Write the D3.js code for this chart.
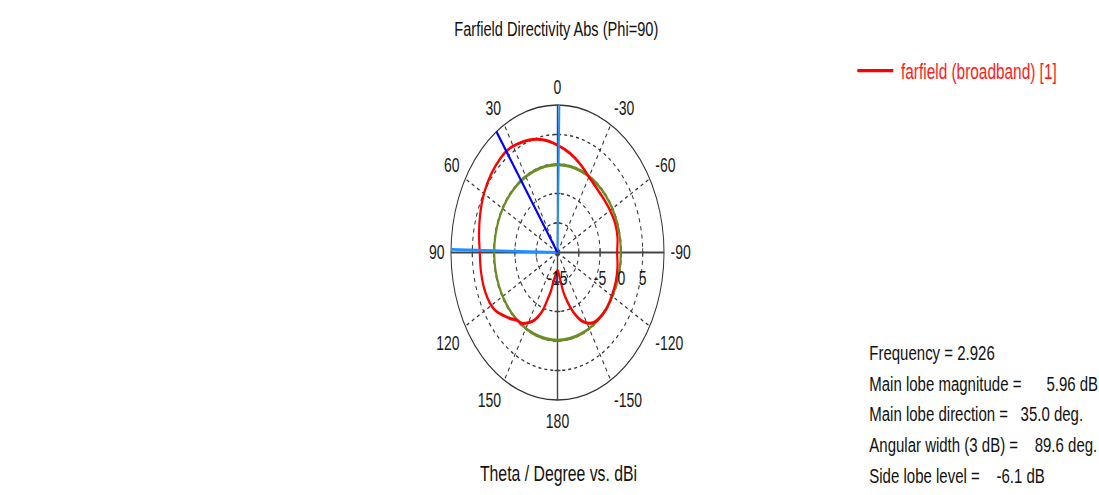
<!DOCTYPE html>
<html>
<head>
<meta charset="utf-8">
<script src="https://cdn.jsdelivr.net/npm/d3@7"></script>
<style>
  html, body { margin: 0; padding: 0; background: #fff; }
  svg { display: block; font-family: "Liberation Sans", Arial, sans-serif; }
  text { white-space: pre; }
</style>
</head>
<body>
<div id="chart"></div>
<script>
// farfield cut, theta in degrees (CCW from top), directivity in dBi
const thetaDeg = [-180, -175, -171.4, -168.4, -164.6, -160, -155, -150, -145, -140, -130, -120, -110, -100, -90, -80, -70, -60, -50, -40, -30, -20, -10,
  0, 10, 20, 30, 35, 40, 50, 60, 70, 80, 90, 100, 110, 120, 125, 130, 135, 140, 145, 150, 155, 160, 163, 166.5, 169, 174];
const dirDbi = [-12.0, -11.3, -10.0, -8.2, -6.4, -4.3, -2.4, -1.2, -0.45, -0.2, -0.05, -0.3, -0.45, -0.7, -1.0, -0.7, -0.6, -0.75, -0.85, -0.75, -0.2, 0.85, 2.05,
  3.2, 4.4, 5.25, 5.8, 5.96, 5.85, 5.45, 4.95, 4.3, 3.7, 3.25, 3.25, 3.25, 2.95, 2.45, 1.6, 0.8, -0.05, -0.35, -1.25, -2.4, -4.3, -6.3, -8.2, -10.0, -11.3];

const radialDomain = [-15, 10];
const ringValues = [-10, -5, 0, 5];
const radialTickValues = [-15, -5, 0, 5];
const radialTickLabels = ['-15', '-5', '0', '5'];
const spokeAngles = [30, 60, 120, 150, -30, -60, -120, -150];
const angleTicks = [0, 30, 60, 90, 120, 150, 180, -150, -120, -90, -60, -30];

const mainLobeDir = 35.0;
const mainLobeMag = 5.96;
const sideLobeLevel = -6.1;
const beamLines = [-1, 88.8];

const titleText = 'Farfield Directivity Abs (Phi=90)';
const axisTitle = 'Theta / Degree vs. dBi';
const legendLabel = 'farfield (broadband) [1]';
const statLines = [
  'Frequency = 2.926',
  'Main lobe magnitude =      5.96 dB',
  'Main lobe direction =   35.0 deg.',
  'Angular width (3 dB) =    89.6 deg.',
  'Side lobe level =    -6.1 dB'
];

const W = 1099, H = 495;
const SY = 1.385; // the original picture is stretched vertically
const cx = 557.5, cy = 182.3, R = 106.5;

const r = d3.scaleLinear().domain(radialDomain).range([0, R]);
const rad = d => d * Math.PI / 180;
const px = (th, rr) => cx - rr * Math.sin(rad(th));
const py = (th, rr) => cy - rr * Math.cos(rad(th));

const svg = d3.select('#chart').append('svg')
  .attr('width', W)
  .attr('height', H);

const g = svg.append('g').attr('transform', `scale(1,${SY})`);

// grid
const grid = g.append('g');
grid.selectAll('circle.ring')
  .data(ringValues)
  .enter().append('circle')
  .attr('class', 'ring')
  .attr('cx', cx).attr('cy', cy)
  .attr('r', d => r(d))
  .attr('fill', 'none')
  .attr('stroke', '#333')
  .attr('stroke-width', 1)
  .attr('stroke-dasharray', '3,3');

grid.selectAll('line.spoke')
  .data(spokeAngles)
  .enter().append('line')
  .attr('class', 'spoke')
  .attr('x1', cx).attr('y1', cy)
  .attr('x2', d => px(d, R)).attr('y2', d => py(d, R))
  .attr('stroke', '#333')
  .attr('stroke-width', 1)
  .attr('stroke-dasharray', '3,3');

grid.append('circle')
  .attr('cx', cx).attr('cy', cy).attr('r', r(radialDomain[1]))
  .attr('fill', 'none').attr('stroke', '#333').attr('stroke-width', 1);

grid.append('line')
  .attr('x1', px(90, R)).attr('y1', cy).attr('x2', px(-90, R)).attr('y2', cy)
  .attr('stroke', '#444').attr('stroke-width', 1.4);
grid.append('line')
  .attr('x1', cx).attr('y1', py(0, R)).attr('x2', cx).attr('y2', py(180, R))
  .attr('stroke', '#444').attr('stroke-width', 1.4);

// small ticks on the axes at each ring
ringValues.forEach(v => {
  [1, -1].forEach(s => {
    grid.append('line')
      .attr('x1', cx + s * r(v)).attr('x2', cx + s * r(v))
      .attr('y1', cy - 3).attr('y2', cy + 3)
      .attr('stroke', '#444').attr('stroke-width', 1);
    grid.append('line')
      .attr('y1', cy + s * r(v)).attr('y2', cy + s * r(v))
      .attr('x1', cx - 3).attr('x2', cx + 3)
      .attr('stroke', '#444').attr('stroke-width', 1);
  });
});

// side lobe level circle
g.append('circle')
  .attr('cx', cx).attr('cy', cy)
  .attr('r', r(mainLobeMag + sideLobeLevel))
  .attr('fill', 'none')
  .attr('stroke', '#6b8e23')
  .attr('stroke-width', 2.2);

// directivity curve
const pts = thetaDeg.map((t, i) => ({ th: t, db: dirDbi[i] }));
const radial = d3.lineRadial()
  .angle(d => -rad(d.th))
  .radius(d => r(d.db))
  .curve(d3.curveCatmullRomClosed.alpha(0.5));

g.append('path')
  .attr('transform', `translate(${cx},${cy})`)
  .attr('d', radial(pts))
  .attr('fill', 'none')
  .attr('stroke', '#ff0000')
  .attr('stroke-width', 2.2);

// beam width lines and main lobe direction
g.selectAll('line.beam')
  .data(beamLines)
  .enter().append('line')
  .attr('class', 'beam')
  .attr('x1', cx).attr('y1', cy)
  .attr('x2', d => px(d, R)).attr('y2', d => py(d, R))
  .attr('stroke', '#1e90ff')
  .attr('stroke-width', 2);

g.append('line')
  .attr('x1', cx).attr('y1', cy)
  .attr('x2', px(mainLobeDir, R)).attr('y2', py(mainLobeDir, R))
  .attr('stroke', '#0000ff')
  .attr('stroke-width', 2);

// angle labels: box corner sits on a circle just outside the plot
const labR = 113;
g.selectAll('text.ang')
  .data(angleTicks)
  .enter().append('text')
  .attr('class', 'ang')
  .attr('x', d => px(d, labR))
  .attr('y', d => {
    const c = Math.cos(rad(d));
    if (Math.abs(c) < 0.01) return py(d, labR);
    return c > 0 ? py(d, labR) - 1.5 : py(d, labR) + 14;
  })
  .attr('dy', d => Math.abs(Math.cos(rad(d))) < 0.01 ? '0.36em' : null)
  .attr('text-anchor', d => {
    const s = Math.sin(rad(d));
    if (Math.abs(s) < 0.01) return 'middle';
    return s > 0 ? 'end' : 'start';
  })
  .attr('font-size', 14)
  .attr('fill', '#1a1a1a')
  .text(d => String(d));

// radial tick labels
g.selectAll('text.rt')
  .data(radialTickValues)
  .enter().append('text')
  .attr('class', 'rt')
  .attr('x', d => cx + r(d))
  .attr('y', cy + 18.6)
  .attr('dy', '0.36em')
  .attr('text-anchor', 'middle')
  .attr('font-size', 14)
  .attr('fill', '#1a1a1a')
  .text((d, i) => radialTickLabels[i]);

// titles
g.append('text')
  .attr('x', 556.3).attr('y', 26)
  .attr('text-anchor', 'middle')
  .attr('font-size', 14.6)
  .attr('fill', '#111')
  .text(titleText);

g.append('text')
  .attr('x', 558.5).attr('y', 347.3)
  .attr('text-anchor', 'middle')
  .attr('font-size', 15.8)
  .attr('fill', '#111')
  .text(axisTitle);

// legend
g.append('line')
  .attr('x1', 857.3).attr('x2', 893.3)
  .attr('y1', 51).attr('y2', 51)
  .attr('stroke', '#ff0000').attr('stroke-width', 2.2);
g.append('text')
  .attr('x', 901).attr('y', 57)
  .attr('font-size', 15.4)
  .attr('fill', '#ff1a1a')
  .text(legendLabel);

// result summary
g.selectAll('text.stat')
  .data(statLines)
  .enter().append('text')
  .attr('class', 'stat')
  .attr('x', 869.3)
  .attr('y', (d, i) => 259.9 + i * 22.2)
  .attr('font-size', 15)
  .attr('fill', '#111')
  .text(d => d);
</script>
</body>
</html>
